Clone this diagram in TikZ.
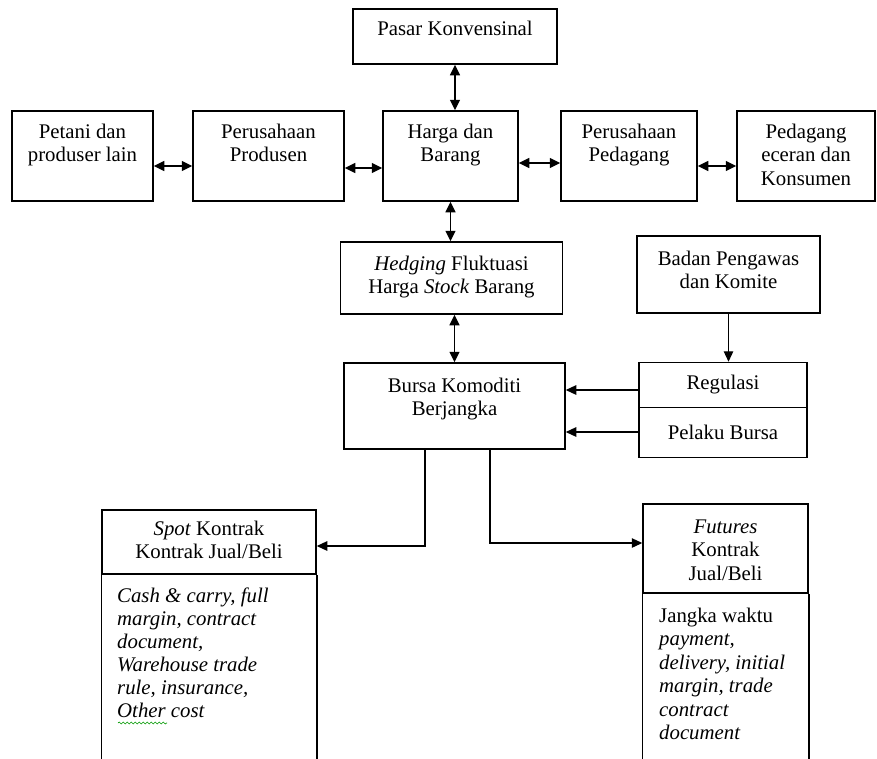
\documentclass[tikz,border=0pt]{standalone}
\usepackage{fontspec}
\setmainfont{Liberation Serif}
\usetikzlibrary{arrows.meta,decorations.pathmorphing}
\newcommand\tb[4]{\parbox[c][#2pt][t]{#1pt}{\centering\rule{0pt}{#3pt}#4}}
\newcommand\diafont{\fontsize{20.8}{23.5}\selectfont}
\begin{document}
\begin{tikzpicture}[x=1pt,y=-1pt,
 box/.style={draw, line width=1.5pt, inner sep=0pt, font=\diafont},
 cbox/.style={draw, line width=1.5pt, inner sep=0pt, font=\diafont, minimum width=168pt},
 dar/.style={line width=1.5pt, {Triangle[length=10.5pt,width=10pt]}-{Triangle[length=10.5pt,width=10pt]}},
 arr/.style={line width=1.2pt, -{Triangle[length=10.5pt,width=9.5pt]}},
 body/.style={inner sep=0pt, font=\diafont, anchor=north west},
 edge/.style={line width=1.5pt}]
\useasboundingbox (0,0) rectangle (877,758);
\clip (0,0) rectangle (877,758);

% top row
\node[box] (pasar) at (455,36.5) {\tb{204}{55}{26}{Pasar Konvensinal}};
\node[box] (petani) at (82.5,156) {\tb{141}{90}{27}{Petani dan\\produser lain}};
\node[box] (produsen) at (268.5,156) {\tb{151}{90}{27}{Perusahaan\\Produsen}};
\node[box] (harga) at (450.5,156) {\tb{135}{90}{27}{Harga dan\\Barang}};
\node[box] (pedagang) at (629,156) {\tb{136}{90}{27}{Perusahaan\\Pedagang}};
\node[box] (eceran) at (806,156) {\tb{138}{90}{27}{Pedagang\\eceran dan\\Konsumen}};

% middle
\node[box] (hedging) at (451.5,278) {\tb{222}{72}{28}{\textit{Hedging} Fluktuasi\\Harga \textit{Stock} Barang}};
\node[box] (badan) at (728.5,274.5) {\tb{183}{77}{29}{Badan Pengawas\\dan Komite}};
\node[box] (bursa) at (454.5,406) {\tb{221}{86}{29}{Bursa Komoditi\\Berjangka}};
\node[cbox, minimum height=45pt] (reg) at (723,385) {Regulasi};
\node[cbox, minimum height=50pt] (pelaku) at (723,432.5) {Pelaku Bursa};

% bottom
\node[box] (spothead) at (209,542) {\tb{214}{64}{25}{\textit{Spot} Kontrak\\Kontrak Jual/Beli}};
\node[box] (futhead) at (725.5,548.5) {\tb{165}{89}{29}{\textit{Futures}\\Kontrak\\Jual/Beli}};
\draw[edge] (spothead.south west) -- ++(0,220);
\draw[edge] (spothead.south east) -- ++(0,220);
\draw[edge] (futhead.south west) -- ++(0,220);
\draw[edge] (futhead.south east) -- ++(0,220);

\node[body] (spotbody) at (117,574) {\parbox[t]{195pt}{\raggedright\itshape\fontsize{20.8}{23}\selectfont\rule{0pt}{28pt}Cash \& carry, full\\margin, contract\\document,\\Warehouse trade\\rule, insurance,\\Other cost}};
\node[body] (futbody) at (659,593) {\parbox[t]{145pt}{\raggedright\rule{0pt}{29pt}Jangka waktu\\\itshape payment,\\delivery, initial\\margin, trade\\contract\\document}};
\draw[green!60!black, line width=0.6pt, decorate, decoration={snake, amplitude=1pt, segment length=4pt}] (118,723) -- (167,723);

% connectors
\draw[dar] (petani.east |- 0,166) -- (produsen.west |- 0,166);
\draw[dar] (produsen.east |- 0,168) -- (harga.west |- 0,168);
\draw[dar] (harga.east |- 0,163) -- (pedagang.west |- 0,163);
\draw[dar] (pedagang.east |- 0,166) -- (eceran.west |- 0,166);
\draw[dar] (pasar.south) -- (pasar.south |- harga.north);
\draw[dar] (harga.south) -- (harga.south |- hedging.north);
\draw[dar] (hedging.south -| bursa.north) -- (bursa.north);
\draw[arr] (badan.south) -- (badan.south |- reg.north);
\draw[arr] (reg.west |- 0,390) -- (bursa.east |- 0,390);
\draw[arr] (pelaku.west |- 0,432) -- (bursa.east |- 0,432);
\draw[arr] (bursa.south -| 425,0) |- (spothead.east |- 0,546);
\draw[arr] (bursa.south -| 490,0) |- (futhead.west |- 0,543);
\end{tikzpicture}
\end{document}
